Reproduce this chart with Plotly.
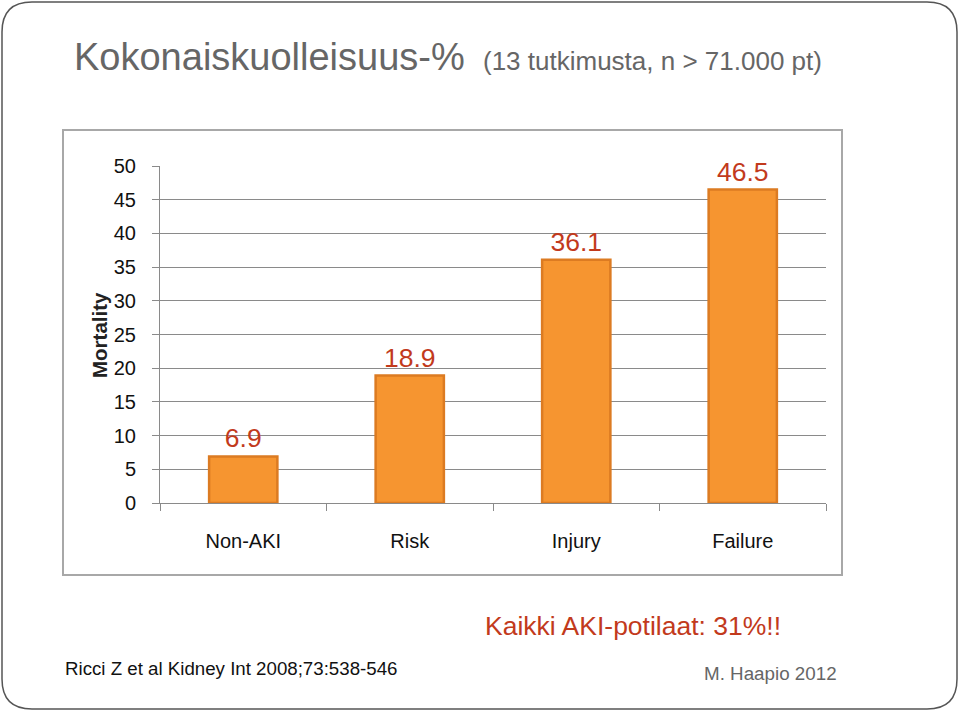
import plotly.graph_objects as go

categories = ["Non-AKI", "Risk", "Injury", "Failure"]
mortality = [6.9, 18.9, 36.1, 46.5]
y_ticks = [0, 5, 10, 15, 20, 25, 30, 35, 40, 45, 50]
labels = ["6.9", "18.9", "36.1", "46.5"]

W, H = 960, 712
def px(x):
    return x / W
def py(y):
    return (H - y) / H

FONT = "Liberation Sans, Arial, sans-serif"

fig = go.Figure()
fig.add_trace(go.Bar(
    x=categories, y=mortality, text=labels, textposition="outside",
    textfont=dict(family=FONT, size=26.5, color="#C23A1C"),
    marker=dict(color="#F69530", line=dict(color="#DC7B22", width=2.5)),
    width=0.41, cliponaxis=False, showlegend=False,
))

fig.update_layout(
    width=W, height=H, margin=dict(l=0, r=0, t=0, b=0, pad=0, autoexpand=False),
    paper_bgcolor="white", plot_bgcolor="white",
    font=dict(family=FONT, color="#222"),
    xaxis=dict(domain=[px(160), px(826)], showline=True, linecolor="#8a8a8a", linewidth=1,
               ticks="outside", tickson="boundaries", ticklen=7, tickcolor="#8a8a8a",
               tickfont=dict(size=20, color="#111"), ticklabelstandoff=20,
               showgrid=False, automargin=False),
    yaxis=dict(domain=[py(503), py(166)], range=[0, 50], tickvals=y_ticks,
               showline=True, linecolor="#8a8a8a", linewidth=1,
               ticks="outside", ticklen=7, tickcolor="#8a8a8a",
               tickfont=dict(size=20, color="#111"), ticklabelstandoff=12,
               showgrid=True, gridcolor="#8a8a8a", gridwidth=1, zeroline=False,
               automargin=False),
)

# chart frame
fig.add_shape(type="rect", xref="paper", yref="paper",
              x0=px(63), x1=px(842), y0=py(575), y1=py(130),
              line=dict(color="#a8a8a8", width=2), layer="below")

# slide rounded border
l, r, t, b, rad = 2, 957, 2, 709, 30
path = (f"M {px(l+rad)},{py(t)} L {px(r-rad)},{py(t)} Q {px(r)},{py(t)} {px(r)},{py(t+rad)} "
        f"L {px(r)},{py(b-rad)} Q {px(r)},{py(b)} {px(r-rad)},{py(b)} "
        f"L {px(l+rad)},{py(b)} Q {px(l)},{py(b)} {px(l)},{py(b-rad)} "
        f"L {px(l)},{py(t+rad)} Q {px(l)},{py(t)} {px(l+rad)},{py(t)} Z")
fig.add_shape(type="path", xref="paper", yref="paper", path=path,
              line=dict(color="#555", width=1.5), layer="below")

def note(text, x, y, size, color, xanchor="left", bold=False, angle=0):
    fig.add_annotation(text=f"<b>{text}</b>" if bold else text, xref="paper", yref="paper",
                       x=px(x), y=py(y), xanchor=xanchor, yanchor="middle",
                       showarrow=False, textangle=angle,
                       font=dict(family=FONT, size=size, color=color))

note("Kokonaiskuolleisuus-%", 72, 57, 38, "#666666")
note("(13 tutkimusta, n > 71.000 pt)", 481, 61, 26, "#666666")
note("Mortality", 99, 335, 20.5, "#222", xanchor="center", bold=True, angle=-90)
note("Kaikki AKI-potilaat: 31%!!", 483, 626, 26.5, "#C23A1C")
note("Ricci Z et al Kidney Int 2008;73:538-546", 63, 668, 18.7, "#111")
note("M. Haapio 2012", 702, 673, 18.8, "#666666")

fig.write_html("out.html")
